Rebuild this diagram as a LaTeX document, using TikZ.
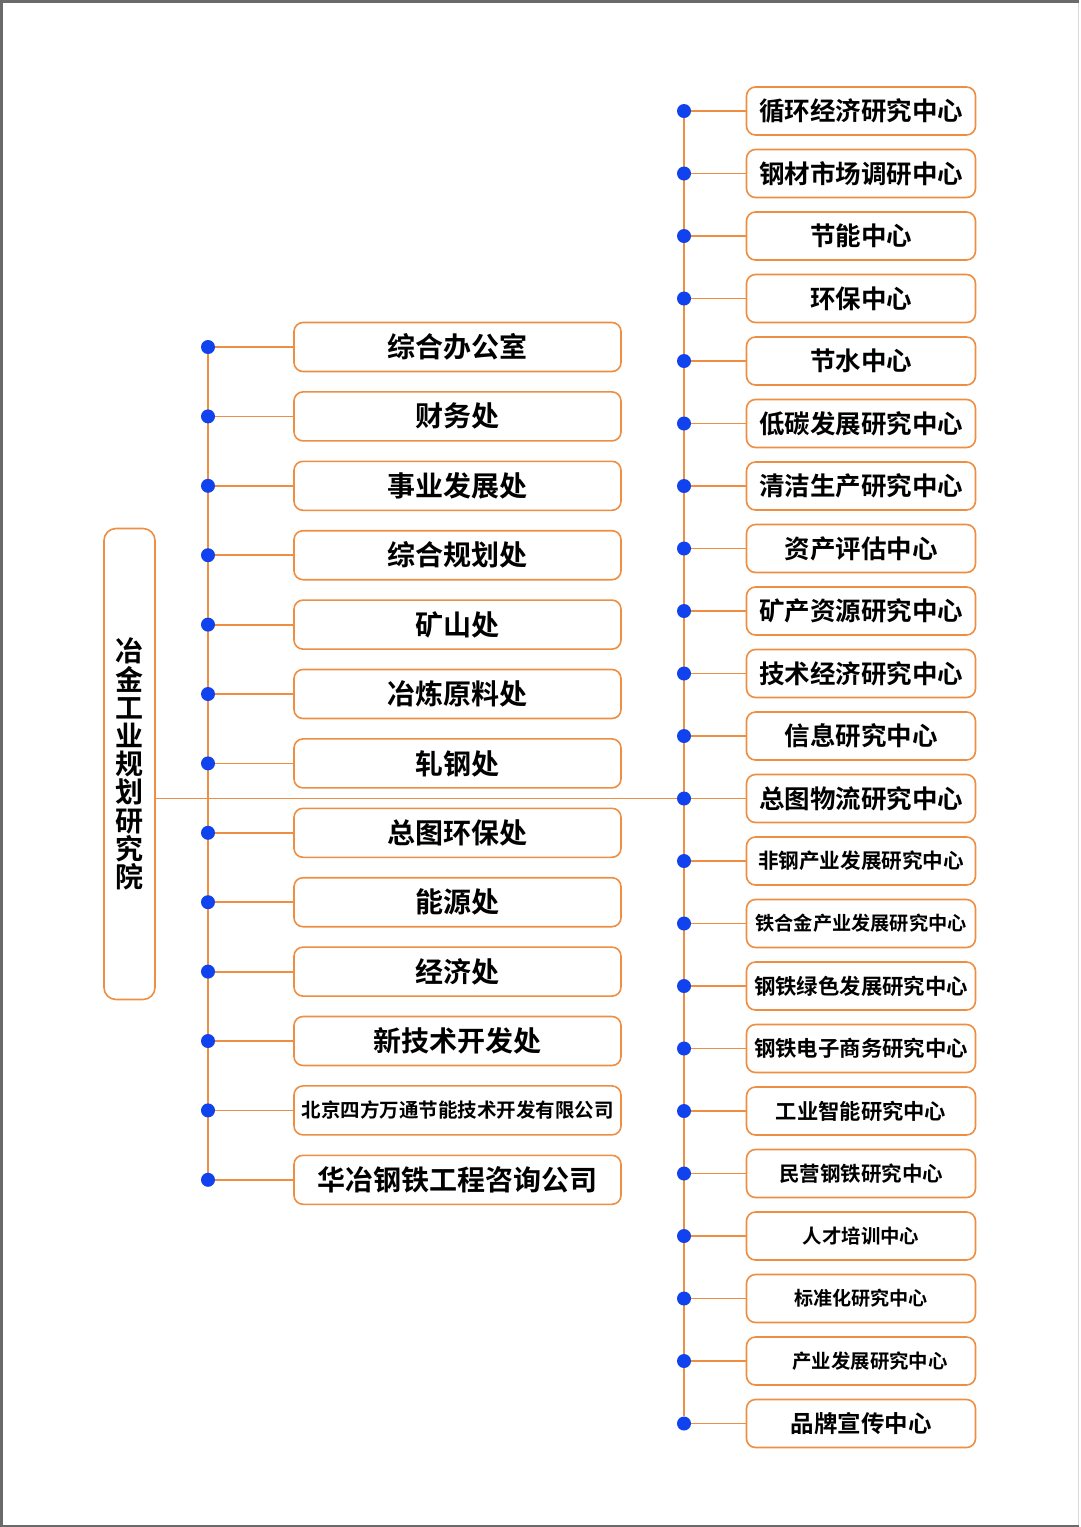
\documentclass[tikz,border=0pt]{standalone}
\usepackage{fontspec}
\usetikzlibrary{positioning,backgrounds,calc}
\newfontfamily\cjk{Noto Sans CJK SC}[BoldFont={* Bold}]
\definecolor{org}{HTML}{EE8E42}
\definecolor{blu}{HTML}{1043EE}
\definecolor{frm}{HTML}{6A6A6A}
\newcommand{\cjkf}[1]{\cjk\bfseries\fontsize{#1}{#1}\selectfont}
\tikzset{
  lbox/.style={draw=org,line width=1.6pt,rounded corners=9pt,fill=white,align=center,
    minimum width=327pt,minimum height=49pt,inner sep=0pt,font={\cjkf{28}}},
  rbox/.style={lbox,minimum width=229pt,minimum height=48pt,font={\cjkf{25.5}}},
  rootbox/.style={lbox,rounded corners=12pt,minimum width=51pt,minimum height=471pt,
    font={\cjk\bfseries\fontsize{28}{28.2}\selectfont}},
  dot/.style={circle,fill=blu,inner sep=0pt,minimum size=14pt},
  ln/.style={draw=org,line width=1.8pt},
}

\begin{document}
\begin{tikzpicture}[x=1pt,y=-1pt]
\useasboundingbox (0,0) rectangle (1080,1527);
% root
\node[rootbox] (root) at (129.5,764) {冶\\金\\工\\业\\规\\划\\研\\究\\院};
% left column
\node[lbox] (l1) at (457.5,347) {综合办公室};
\node[lbox] (l2) at (457.5,416.4) {财务处};
\node[lbox] (l3) at (457.5,485.8) {事业发展处};
\node[lbox] (l4) at (457.5,555.2) {综合规划处};
\node[lbox] (l5) at (457.5,624.6) {矿山处};
\node[lbox] (l6) at (457.5,694) {冶炼原料处};
\node[lbox] (l7) at (457.5,763.4) {轧钢处};
\node[lbox] (l8) at (457.5,832.8) {总图环保处};
\node[lbox] (l9) at (457.5,902.2) {能源处};
\node[lbox] (l10) at (457.5,971.6) {经济处};
\node[lbox] (l11) at (457.5,1041) {新技术开发处};
\node[lbox,font={\cjkf{19.5}}] (l12) at (457.5,1110.4) {北京四方万通节能技术开发有限公司};
\node[lbox] (l13) at (457.5,1179.8) {华冶钢铁工程咨询公司};
% right column
\node[rbox] (r1) at (861,111) {循环经济研究中心};
\node[rbox] (r2) at (861,173.5) {钢材市场调研中心};
\node[rbox] (r3) at (861,236) {节能中心};
\node[rbox] (r4) at (861,298.5) {环保中心};
\node[rbox] (r5) at (861,361) {节水中心};
\node[rbox] (r6) at (861,423.5) {低碳发展研究中心};
\node[rbox] (r7) at (861,486) {清洁生产研究中心};
\node[rbox] (r8) at (861,548.5) {资产评估中心};
\node[rbox] (r9) at (861,611) {矿产资源研究中心};
\node[rbox] (r10) at (861,673.5) {技术经济研究中心};
\node[rbox] (r11) at (861,736) {信息研究中心};
\node[rbox] (r12) at (861,798.5) {总图物流研究中心};
\node[rbox,font={\cjkf{20.6}}] (r13) at (861,861) {非钢产业发展研究中心};
\node[rbox,font={\cjkf{19.2}}] (r14) at (861,923.5) {铁合金产业发展研究中心};
\node[rbox,font={\cjkf{21.4}}] (r15) at (861,986) {钢铁绿色发展研究中心};
\node[rbox,font={\cjkf{21.4}}] (r16) at (861,1048.5) {钢铁电子商务研究中心};
\node[rbox,font={\cjkf{21.3}}] (r17) at (861,1111) {工业智能研究中心};
\node[rbox,font={\cjkf{20.5}}] (r18) at (861,1173.5) {民营钢铁研究中心};
\node[rbox,font={\cjkf{19.4}}] (r19) at (861,1236) {人才培训中心};
\node[rbox,font={\cjkf{19.1}}] (r20) at (861,1298.5) {标准化研究中心};
\node[rbox,font={\cjkf{19.4}}] (r21) at (861,1361) {\hspace*{18pt}产业发展研究中心};
\node[rbox,font={\cjkf{23.5}}] (r22) at (861,1423.5) {品牌宣传中心};
% dots
\foreach \i in {1,...,13} \node[dot] (ld\i) at (l\i.center -| 208,0) {};
\foreach \i in {1,...,22} \node[dot] (rd\i) at (r\i.center -| 684,0) {};
\begin{scope}[on background layer]
\fill[white] (0,0) rectangle (1080,1527);
\draw[frm!25,line width=1pt] (1078.5,1) -- (1078.5,1526);
\draw[frm,line width=2.5pt] (1079,1.25) -- (1.25,1.25) -- (1.25,1525.75) -- (1079,1525.75);
\draw[ln] (ld1) -- (ld13);
\draw[ln] (rd1) -- (rd22);
\draw[ln] (root.east |- rd12) -- (rd12);
\foreach \i in {1,...,13} \draw[ln] (ld\i) -- (l\i);
\foreach \i in {1,...,22} \draw[ln] (rd\i) -- (r\i);
\end{scope}
\end{tikzpicture}
\end{document}
